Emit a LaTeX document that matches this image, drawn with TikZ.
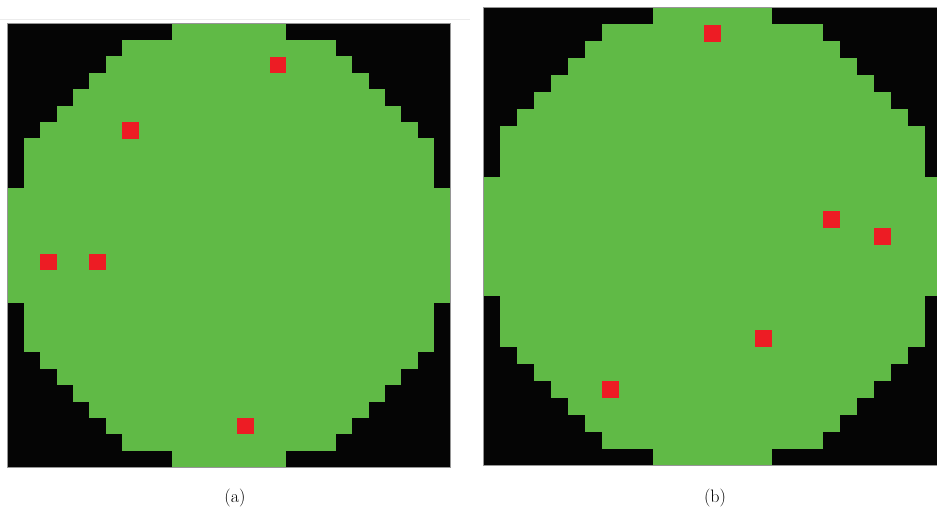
\documentclass[tikz,border=0pt]{standalone}
\usepackage{tikz}
\definecolor{cellgreen}{RGB}{96,186,70}
\definecolor{cellred}{RGB}{237,28,36}
\definecolor{cellblack}{RGB}{5,5,5}
\definecolor{frame}{RGB}{150,150,150}
\definecolor{faint}{RGB}{236,236,236}
\tikzset{
  greencell/.style={fill=cellgreen},
  redcell/.style={fill=cellred},
  blackbg/.style={fill=cellblack},
  panelframe/.style={draw=frame,line width=0.9pt},
  caption/.style={font=\fontsize{18}{20}\selectfont,inner sep=0pt}
}
\newcommand{\drawpanel}[4]{% ox, oy, s, red list
  \fill[blackbg] (#1,#2) rectangle ({#1+27*#3},{#2+27*#3});
  \foreach \r/\b in {0/10,1/7,2/6,3/5,4/4,5/3,6/2,7/1,8/1,9/1,10/0,11/0,12/0,13/0,14/0,15/0,16/0,17/1,18/1,19/1,20/2,21/3,22/4,23/5,24/6,25/7,26/10}{
    \fill[greencell] ({#1+\b*#3},{#2+\r*#3-0.2}) rectangle ({#1+(27-\b)*#3},{#2+(\r+1)*#3+0.2});
  }
  \foreach \c/\r in {#4}{
    \fill[redcell] ({#1+\c*#3},{#2+\r*#3}) rectangle ({#1+(\c+1)*#3},{#2+(\r+1)*#3});
  }
  \draw[panelframe] (#1,#2) rectangle ({#1+27*#3},{#2+27*#3});
}
\begin{document}
\begin{tikzpicture}[x=1pt,y=-1pt]
\useasboundingbox (0,0) rectangle (937,514);
\fill[white] (0,0) rectangle (937,514);
\begin{scope}
\clip (0,0) rectangle (937,514);
\draw[faint,line width=0.8pt] (0,19) -- (470,19);
\drawpanel{7.3}{23.7}{16.42}{7/6,16/2,2/14,5/14,14/24}
\drawpanel{483.3}{7.7}{16.97}{13/1,20/12,23/13,16/19,7/22}
\end{scope}
\node[caption] (capa) at (235,498) {(a)};
\node[caption] (capb) at (715,498) {(b)};
\end{tikzpicture}
\end{document}
